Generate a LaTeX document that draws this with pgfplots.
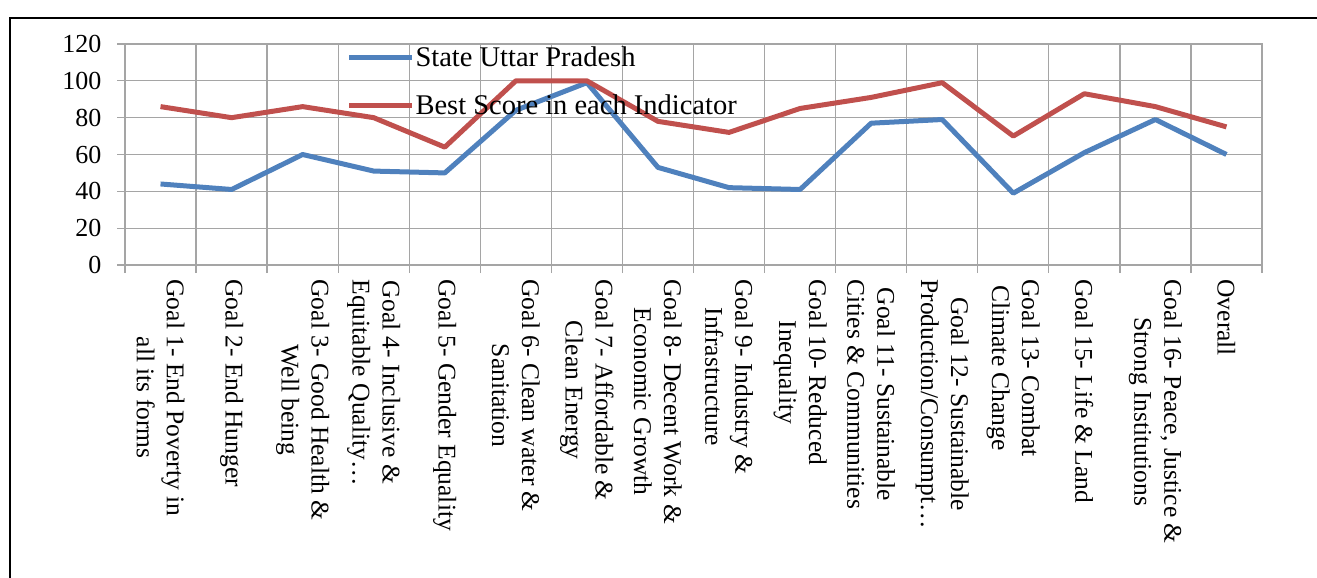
\documentclass[border=0pt]{standalone}
\usepackage{fontspec}
\setmainfont{Liberation Serif}
\usepackage{pgfplots}
\pgfplotsset{compat=1.18}
\definecolor{upblue}{HTML}{4F81BD}
\definecolor{upred}{HTML}{C0504D}
\definecolor{gridgray}{RGB}{165,165,165}
\begin{document}
\begin{tikzpicture}[x=1pt,y=1pt]
\useasboundingbox (0,0) rectangle (1317,-578);
\draw[line width=2pt] (1330,-18) -- (10,-18) -- (10,-590);
\begin{axis}[
 at={(125pt,-265pt)}, anchor=south west, scale only axis,
 width=1137pt, height=221pt,
 xmin=0, xmax=16, ymin=0, ymax=120,
 xtick={0,...,16}, xticklabels={},
 ytick={0,20,...,120},
 extra x ticks={0.5,1.5,...,15.5},
 extra x tick labels={
  {Goal 1- End Poverty in\\all its forms},
  {Goal 2- End Hunger},
  {Goal 3- Good Health \&\\Well being},
  {Goal 4- Inclusive \&\\Equitable Quality…},
  {Goal 5- Gender Equality},
  {Goal 6- Clean water \&\\Sanitation},
  {Goal 7- Affordable \&\\Clean Energy},
  {Goal 8- Decent Work \&\\Economic Growth},
  {Goal 9- Industry \&\\Infrastructure},
  {Goal 10- Reduced\\Inequality},
  {Goal 11- Sustainable\\Cities \& Communities},
  {Goal 12- Sustainable\\Production/Consumpt…},
  {Goal 13- Combat\\Climate Change},
  {Goal 15- Life \& Land},
  {Goal 16- Peace, Justice \&\\Strong Institutions},
  {Overall}},
 extra x tick style={major tick length=0pt, grid=none, xticklabel shift=11pt},
 grid=major, major grid style={gridgray, line width=1.3pt},
 axis line style={gridgray, line width=1.3pt},
 tick style={gridgray, line width=1.3pt},
 tick align=outside, major tick length=8pt,
 tick pos=left,
 tick label style={font=\fontsize{26}{27}\selectfont, text=black},
 yticklabel style={xshift=-12pt},
 /pgf/number format/assume math mode=true,
 xticklabel style={rotate=-90, anchor=west, align=center, font=\fontsize{25.5}{30}\selectfont},
 legend style={at={(0.192,1.0)}, anchor=north west, draw=none, fill=none,
   font=\fontsize{28.5}{30}\selectfont, row sep=24pt, nodes={inner sep=1pt}},
 legend cell align=left,
 legend image code/.code={\draw[#1, line width=5pt] (0pt,0pt) -- (63pt,0pt);},
]
\addplot[upblue, line width=5pt, line join=round] coordinates {
 (0.5,44) (1.5,41) (2.5,60) (3.5,51) (4.5,50) (5.5,84) (6.5,99) (7.5,53)
 (8.5,42) (9.5,41) (10.5,77) (11.5,79) (12.5,39) (13.5,61) (14.5,79) (15.5,60)};
\addlegendentry{State Uttar Pradesh}
\addplot[upred, line width=5pt, line join=round] coordinates {
 (0.5,86) (1.5,80) (2.5,86) (3.5,80) (4.5,64) (5.5,100) (6.5,100) (7.5,78)
 (8.5,72) (9.5,85) (10.5,91) (11.5,99) (12.5,70) (13.5,93) (14.5,86) (15.5,75)};
\addlegendentry{Best Score in each  Indicator}
\end{axis}
\end{tikzpicture}
\end{document}
